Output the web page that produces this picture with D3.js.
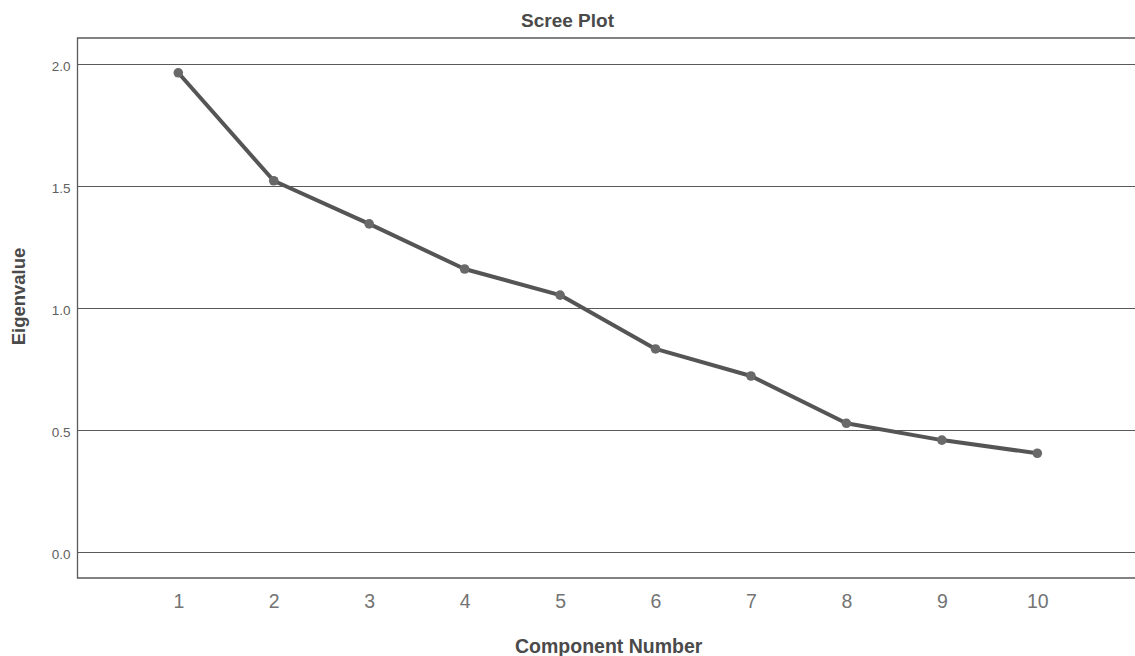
<!DOCTYPE html>
<html>
<head>
<meta charset="utf-8">
<script src="https://cdn.jsdelivr.net/npm/d3@7"></script>
<style>
  body { margin: 0; background: #fff; }
  text { font-family: "Liberation Sans", Arial, sans-serif; }
</style>
</head>
<body>
<script>
// scree plot data
var components = [1, 2, 3, 4, 5, 6, 7, 8, 9, 10];
var eigenvalues = [1.964, 1.521, 1.344, 1.159, 1.052, 0.831, 0.720, 0.526, 0.457, 0.403];
var yTicks = [0.0, 0.5, 1.0, 1.5, 2.0];

var W = 1135, H = 656;
var box = {left: 77.5, right: 1140, top: 38, bottom: 578};

var svg = d3.select("body").append("svg")
  .attr("width", W)
  .attr("height", H);

var x = d3.scaleLinear()
  .domain([1, 10])
  .range([178.3, 1037.3]);

var y = d3.scaleLinear()
  .domain([0, 2])
  .range([551.5, 64]);

// frame (right side runs off the picture)
svg.append("path")
  .attr("d", "M" + box.right + "," + box.top + "H" + box.left + "V" + box.bottom + "H" + box.right)
  .attr("fill", "none")
  .attr("stroke", "#5a5a5a")
  .attr("stroke-width", 1.3);

// gridlines
svg.selectAll("line.grid")
  .data(yTicks)
  .enter().append("line")
    .attr("class", "grid")
    .attr("x1", box.left)
    .attr("x2", box.right)
    .attr("y1", function(d) { return Math.round(y(d)) + 0.5; })
    .attr("y2", function(d) { return Math.round(y(d)) + 0.5; })
    .attr("stroke", "#5a5a5a")
    .attr("stroke-width", 1.2);

// y axis (labels only)
var yAxis = d3.axisLeft(y)
  .tickValues(yTicks)
  .tickFormat(d3.format(".1f"))
  .tickSize(0)
  .tickPadding(7);

svg.append("g")
  .attr("transform", "translate(" + box.left + ",0)")
  .call(yAxis)
  .call(function(g) { g.select(".domain").remove(); })
  .selectAll("text")
    .attr("font-size", "13.5px")
    .attr("fill", "#606060")
    .attr("dy", "0.5em")
    .attr("font-family", "Liberation Sans, Arial, sans-serif");

// x axis
var xAxis = d3.axisBottom(x)
  .tickValues(components)
  .tickFormat(d3.format("d"))
  .tickSize(0)
  .tickPadding(16);

svg.append("g")
  .attr("transform", "translate(0," + box.bottom + ")")
  .call(xAxis)
  .call(function(g) { g.select(".domain").remove(); })
  .selectAll("text")
    .attr("font-size", "19.5px")
    .attr("fill", "#747474")
    .attr("font-family", "Liberation Sans, Arial, sans-serif");

// the line
var lineFunction = d3.line()
  .x(function(d, i) { return x(components[i]); })
  .y(function(d) { return y(d); });

svg.append("path")
  .datum(eigenvalues)
  .attr("d", lineFunction)
  .attr("fill", "none")
  .attr("stroke", "#555555")
  .attr("stroke-width", 4)
  .attr("stroke-linejoin", "round");

svg.selectAll("circle.pt")
  .data(eigenvalues)
  .enter().append("circle")
    .attr("class", "pt")
    .attr("cx", function(d, i) { return x(components[i]); })
    .attr("cy", function(d) { return y(d); })
    .attr("r", 4.8)
    .attr("fill", "#696969");

// titles
svg.append("text")
  .attr("x", W / 2)
  .attr("y", 27)
  .attr("text-anchor", "middle")
  .attr("font-size", "19px")
  .attr("font-weight", "bold")
  .attr("fill", "#4a4a4a")
  .text("Scree Plot");

svg.append("text")
  .attr("x", (box.left + box.right) / 2)
  .attr("y", 653)
  .attr("text-anchor", "middle")
  .attr("font-size", "19.5px")
  .attr("font-weight", "bold")
  .attr("fill", "#4a4a4a")
  .text("Component Number");

svg.append("text")
  .attr("transform", "translate(25,296.5) rotate(-90)")
  .attr("text-anchor", "middle")
  .attr("font-size", "18.5px")
  .attr("font-weight", "bold")
  .attr("fill", "#4a4a4a")
  .text("Eigenvalue");
</script>
</body>
</html>
